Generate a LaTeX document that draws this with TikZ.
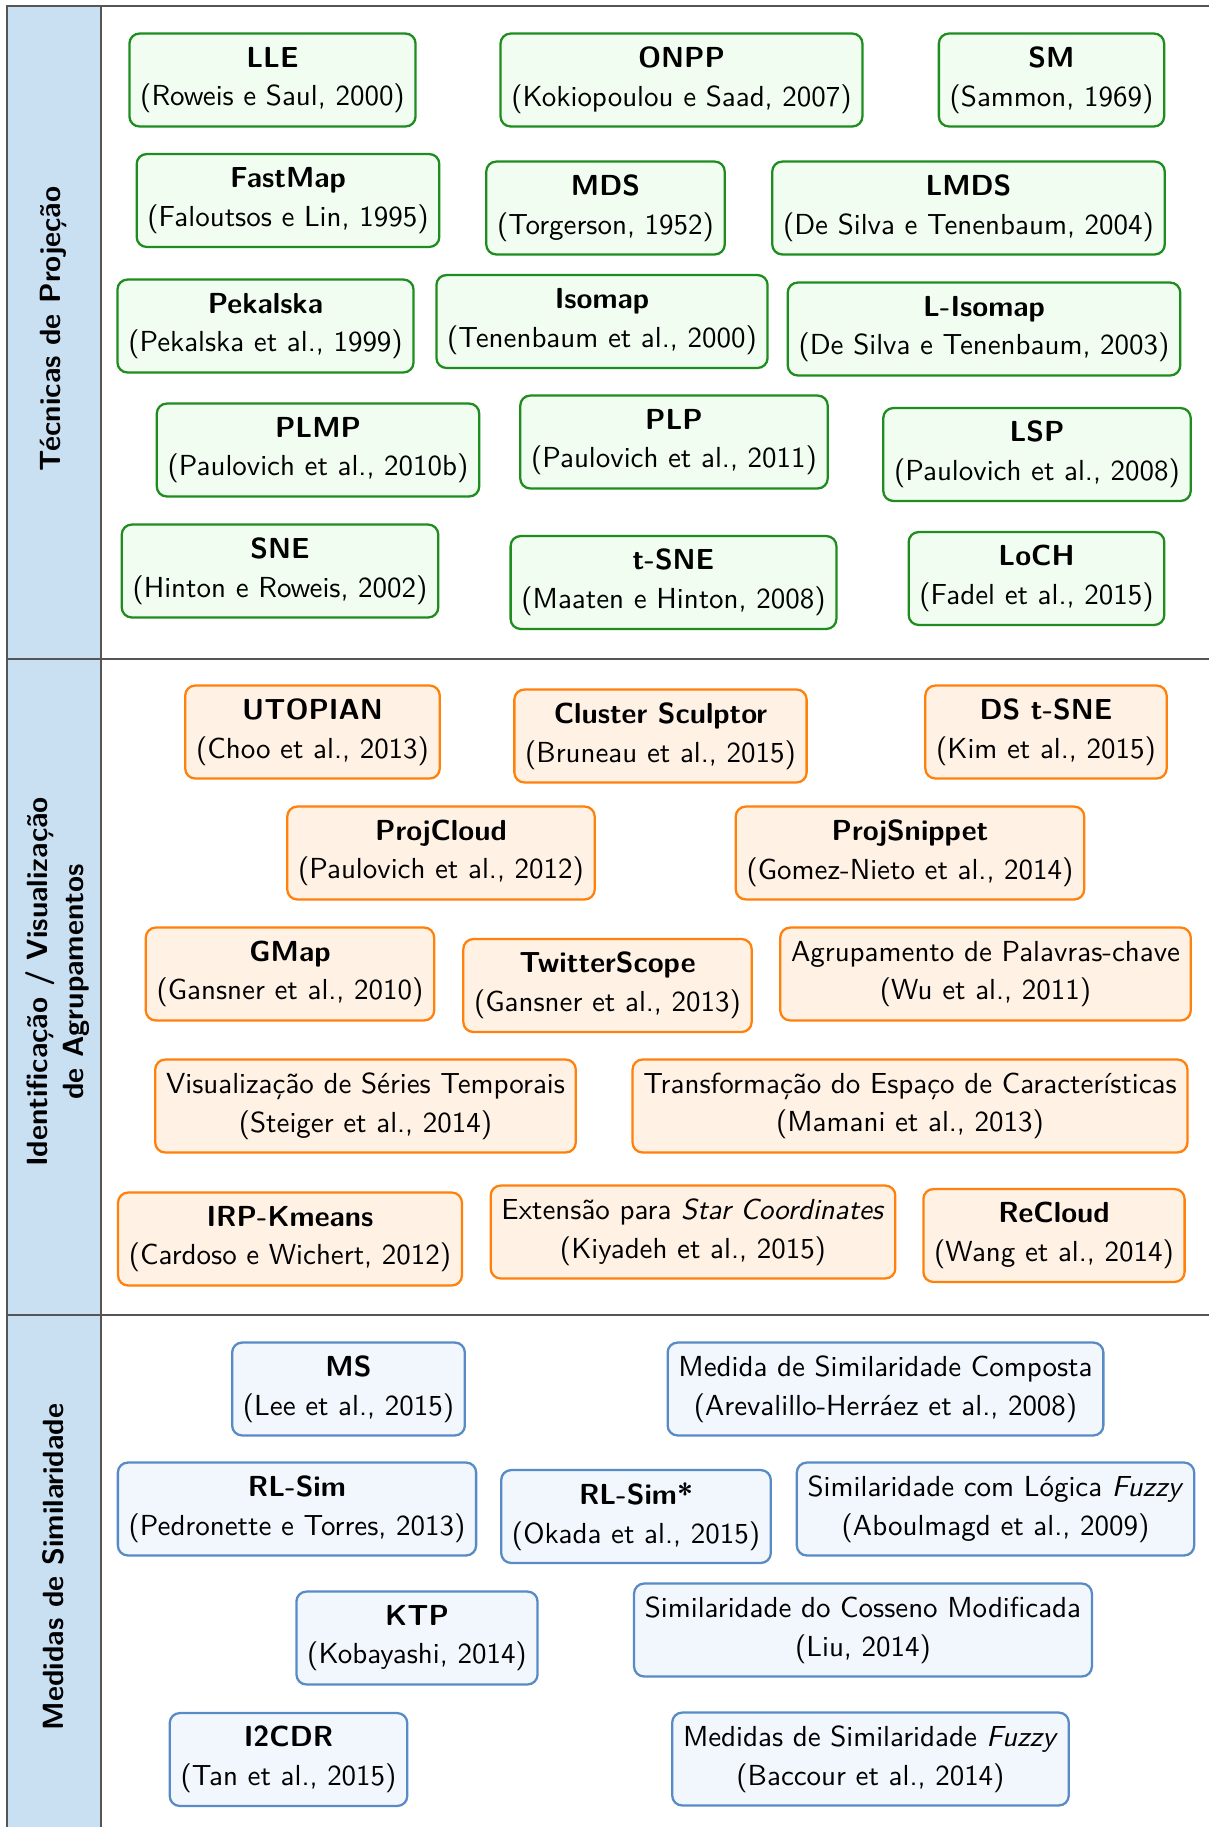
\documentclass[tikz,border=0pt]{standalone}
\usepackage{fontspec}
\definecolor{colfill}{RGB}{201,223,242}
\definecolor{framecol}{RGB}{85,85,85}
\definecolor{projline}{RGB}{30,140,30}
\definecolor{projfill}{RGB}{240,253,240}
\definecolor{clusline}{RGB}{255,128,10}
\definecolor{clusfill}{RGB}{255,241,228}
\definecolor{simline}{RGB}{88,138,198}
\definecolor{simfill}{RGB}{241,247,253}
\tikzset{
  box/.style={rounded corners=3.5pt, line width=0.8pt, align=center,
    minimum height=32.7pt, inner xsep=3.8pt, inner ysep=2pt,
    font=\sffamily\fontsize{10.2}{13.6}\selectfont},
  proj/.style={box, draw=projline, fill=projfill},
  clus/.style={box, draw=clusline, fill=clusfill},
  simbox/.style={box, draw=simline, fill=simfill},
  framerule/.style={draw=framecol, line width=0.6pt},
  grouplabel/.style={rotate=90, align=center,
    font=\sffamily\bfseries\fontsize{10.3}{12.7}\selectfont}
}
\begin{document}
\begin{tikzpicture}[x=0.3521pt, y=-0.3521pt]
\useasboundingbox (0,0) rectangle (1209,1827);

% left column and table rules
\fill[colfill] (7,6) rectangle (101,1827);
\draw[framerule] (7,1827) -- (7,6) -- (1209,6);
\draw[framerule] (101,6) -- (101,1827);
\draw[framerule] (7,659) -- (1209,659);
\draw[framerule] (7,1315) -- (1209,1315);

% group titles
\node[grouplabel] (g1) at (53,329) {Técnicas de Projeção};
\node[grouplabel] (g2) at (58,982) {Identificação / Visualização\\de Agrupamentos};
\node[grouplabel] (g3) at (53,1567) {Medidas de Similaridade};

% projection techniques
\node[proj] (lle) at (272.5,80) {\textbf{LLE}\\(Roweis e Saul, 2000)};
\node[proj] (onpp) at (681.5,80) {\textbf{ONPP}\\(Kokiopoulou e Saad, 2007)};
\node[proj] (sm) at (1051.5,80) {\textbf{SM}\\(Sammon, 1969)};
\node[proj] (fastmap) at (288,200.5) {\textbf{FastMap}\\(Faloutsos e Lin, 1995)};
\node[proj] (mds) at (605.5,208) {\textbf{MDS}\\(Torgerson, 1952)};
\node[proj] (lmds) at (968.5,208) {\textbf{LMDS}\\(De Silva e Tenenbaum, 2004)};
\node[proj] (pekalska) at (265.5,326) {\textbf{Pekalska}\\(Pekalska et al., 1999)};
\node[proj] (isomap) at (602,321.5) {\textbf{Isomap}\\(Tenenbaum et al., 2000)};
\node[proj] (lisomap) at (984,329) {\textbf{L-Isomap}\\(De Silva e Tenenbaum, 2003)};
\node[proj] (plmp) at (318,450) {\textbf{PLMP}\\(Paulovich et al., 2010b)};
\node[proj] (plp) at (674,442) {\textbf{PLP}\\(Paulovich et al., 2011)};
\node[proj] (lsp) at (1037,454.5) {\textbf{LSP}\\(Paulovich et al., 2008)};
\node[proj] (sne) at (280,571) {\textbf{SNE}\\(Hinton e Roweis, 2002)};
\node[proj] (tsne) at (673.5,582.5) {\textbf{t-SNE}\\(Maaten e Hinton, 2008)};
\node[proj] (loch) at (1036.5,578.5) {\textbf{LoCH}\\(Fadel et al., 2015)};

% cluster identification / visualization
\node[clus] (utopian) at (312.5,732) {\textbf{UTOPIAN}\\(Choo et al., 2013)};
\node[clus] (sculptor) at (660.5,736) {\textbf{Cluster Sculptor}\\(Bruneau et al., 2015)};
\node[clus] (dstsne) at (1046,732) {\textbf{DS t-SNE}\\(Kim et al., 2015)};
\node[clus] (projcloud) at (441,853) {\textbf{ProjCloud}\\(Paulovich et al., 2012)};
\node[clus] (projsnippet) at (910,853) {\textbf{ProjSnippet}\\(Gomez-Nieto et al., 2014)};
\node[clus] (gmap) at (290,974) {\textbf{GMap}\\(Gansner et al., 2010)};
\node[clus] (twitterscope) at (607.5,985.5) {\textbf{TwitterScope}\\(Gansner et al., 2013)};
\node[clus] (keywords) at (985.5,974) {Agrupamento de Palavras-chave\\(Wu et al., 2011)};
\node[clus] (series) at (365.5,1106) {Visualização de Séries Temporais\\(Steiger et al., 2014)};
\node[clus] (featspace) at (910,1106) {Transformação do Espaço de Características\\(Mamani et al., 2013)};
\node[clus] (irpkmeans) at (290,1239) {\textbf{IRP-Kmeans}\\(Cardoso e Wichert, 2012)};
\node[clus] (starcoord) at (693,1232) {Extensão para \textit{Star Coordinates}\\(Kiyadeh et al., 2015)};
\node[clus] (recloud) at (1054,1235.5) {\textbf{ReCloud}\\(Wang et al., 2014)};

% similarity measures
\node[simbox] (ms) at (348.5,1389) {\textbf{MS}\\(Lee et al., 2015)};
\node[simbox] (composite) at (885.5,1389) {Medida de Similaridade Composta\\(Arevalillo-Herráez et al., 2008)};
\node[simbox] (rlsim) at (297,1509) {\textbf{RL-Sim}\\(Pedronette e Torres, 2013)};
\node[simbox] (rlsimstar) at (636,1516.5) {\textbf{RL-Sim*}\\(Okada et al., 2015)};
\node[simbox] (fuzzylogic) at (995.5,1509) {Similaridade com Lógica \textit{Fuzzy}\\(Aboulmagd et al., 2009)};
\node[simbox] (ktp) at (417,1638) {\textbf{KTP}\\(Kobayashi, 2014)};
\node[simbox] (cosine) at (863,1630) {Similaridade do Cosseno Modificada\\(Liu, 2014)};
\node[simbox] (itcdr) at (288.5,1759.5) {\textbf{I2CDR}\\(Tan et al., 2015)};
\node[simbox] (fuzzymeasures) at (870.5,1759) {Medidas de Similaridade \textit{Fuzzy}\\(Baccour et al., 2014)};
\end{tikzpicture}
\end{document}
